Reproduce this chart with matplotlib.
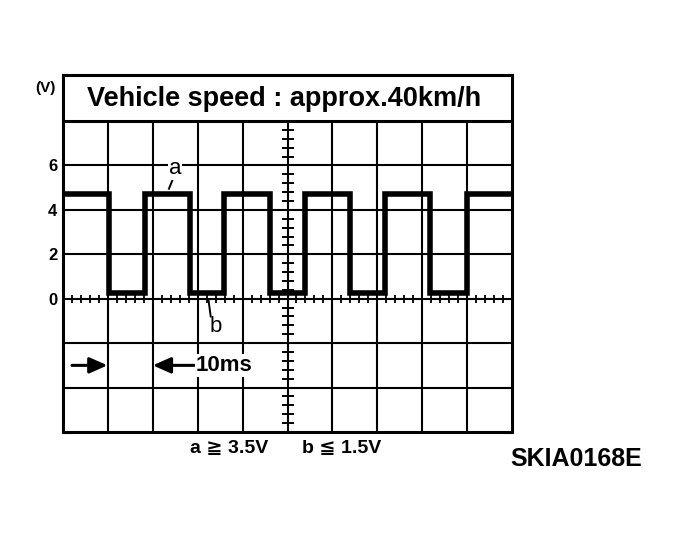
import matplotlib.pyplot as plt
import numpy as np

plt.rcParams['font.family'] = ['Liberation Sans', 'DejaVu Sans']

# waveform: edge times (ms) and the level (V) held after each edge
edge_ms = [0, 10.2, 18.3, 28.3, 35.9, 46.1, 53.9, 63.9, 71.7, 81.7, 90.0, 100]
level_v = [4.7, 0.25, 4.7, 0.25, 4.7, 0.25, 4.7, 0.25, 4.7, 0.25, 4.7]

ytick_vals = [0, 2, 4, 6]
ytick_labels = ['0', '2', '4', '6']
title = 'Vehicle speed : approx.40km/h'
time_label = '10ms'
cond_a = 'a \u2267 3.5V'
cond_b = 'b \u2266 1.5V'
fig_code = 'SKIA0168E'

fig = plt.figure(figsize=(6.81, 5.44), dpi=100)
ax = fig.add_axes([63/681, (544-432)/544, (512-63)/681, (432-75)/544])
ax.set_xlim(0, 100)
ax.set_ylim(-6, 10.07)

for s in ax.spines.values():
    s.set_linewidth(2.2)
ax.set_xticks([])
ax.set_yticks(ytick_vals)
ax.set_yticklabels(ytick_labels, fontsize=12, fontweight='bold')
ax.tick_params(axis='y', length=0, pad=4)

# grid
ax.vlines(np.arange(10, 100, 10), -6, 8, color='black', lw=1.5)
ax.hlines([-4, -2, 0, 2, 4, 6], 0, 100, color='black', lw=1.5)
ax.hlines([8], 0, 100, color='black', lw=2.2)

# fine division marks on the centre lines
ax.plot(np.arange(0, 100.1, 2), np.zeros(51), '|', color='black', ms=6, mew=1.3)
ax.plot(np.full(35, 50.0), np.arange(-6, 8, 0.4), '_', color='black', ms=8, mew=1.4)

# the signal
ax.step(edge_ms, level_v + [level_v[-1]], where='post', color='black', lw=4,
        solid_joinstyle='miter')

ax.text(49.2, 9.0, title, ha='center', va='center', fontsize=19.5, fontweight='bold')
ax.text(-3.9, 9.5, '(V)', ha='center', va='center', fontsize=11, fontweight='bold', clip_on=False)

# labels a / b
ax.text(24.9, 5.85, 'a', ha='center', va='center', fontsize=16,
        bbox=dict(facecolor='white', edgecolor='none', pad=0.5))
ax.plot([24.5, 23.6], [5.4, 4.95], color='black', lw=1.4)
ax.text(34.0, -1.25, 'b', ha='center', va='center', fontsize=16)
ax.plot([32.4, 32.9], [-0.05, -0.8], color='black', lw=1.4)

# 10 ms marker
arrow_style = dict(arrowstyle='-|>,head_length=0.9,head_width=0.4',
                   mutation_scale=12, lw=2.2, color='black', shrinkA=0, shrinkB=0)
ax.annotate('', xy=(9.9, -3.0), xytext=(2.0, -3.0), arrowprops=arrow_style)
ax.annotate('', xy=(20.0, -3.0), xytext=(29.2, -3.0), arrowprops=arrow_style)
ax.text(29.6, -3.0, time_label, ha='left', va='center', fontsize=16, fontweight='bold',
        bbox=dict(facecolor='white', edgecolor='none', pad=0.5))

ax.text(28.3, -6.75, cond_a, ha='left', va='center', fontsize=14, fontweight='bold',
        clip_on=False)
ax.text(53.2, -6.75, cond_b, ha='left', va='center', fontsize=14, fontweight='bold',
        clip_on=False)

fig.text(510/681, (544-459)/544, fig_code, ha='left', va='center', fontsize=18, fontweight='bold')

fig.savefig('out.png', dpi=100)
